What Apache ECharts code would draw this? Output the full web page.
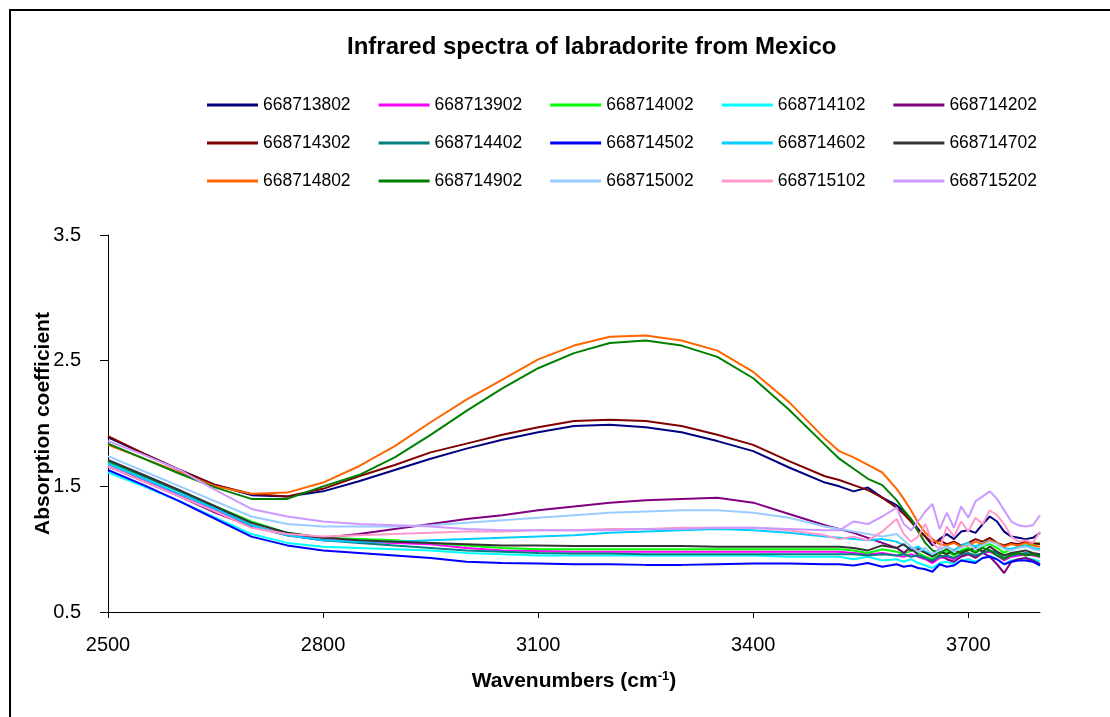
<!DOCTYPE html>
<html>
<head>
<meta charset="utf-8">
<script src="https://cdn.jsdelivr.net/npm/echarts@6/dist/echarts.min.js"></script>
<style>
html,body{margin:0;padding:0;background:#fff;}
#chart{width:1110px;height:717px;}
</style>
</head>
<body>
<div id="chart"></div>
<script>
const chartTitle = 'Infrared spectra of labradorite from Mexico';
const xAxisTitle = 'Wavenumbers (cm';
const yAxisTitle = 'Absorption coefficient';
const xTickLabels = [2500, 2800, 3100, 3400, 3700];
const yTickLabels = [0.5, 1.5, 2.5, 3.5];

const wavenumbers = [2500,2550,2600,2650,2700,2750,2800,2850,2900,2950,3000,3050,3100,3150,3200,3250,3300,3350,3400,3450,3500,
  3520,3540,3560,3580,3600,3610,3620,3630,3640,3650,3660,3670,3680,3690,3700,3710,3720,3730,3740,3750,3760,3770,3780,3790,3800];

const seriesNames = ['668713802','668713902','668714002','668714102','668714202',
  '668714302','668714402','668714502','668714602','668714702',
  '668714802','668714902','668715002','668715102','668715202'];

const seriesColors = ['#000080','#FF00FF','#00FF00','#00FFFF','#800080',
  '#800000','#008080','#0000FF','#00CCFF','#333333',
  '#FF6600','#008000','#99CCFF','#FF99CC','#CC99FF'];

const s668713802 = [1.89,1.76,1.63,1.51,1.43,1.42,1.46,1.54,1.63,1.72,1.80,1.87,1.93,1.98,1.99,1.97,1.93,1.86,1.78,1.65,1.53,
  1.50,1.46,1.49,1.41,1.35,1.30,1.24,1.16,1.10,1.03,1.08,1.12,1.08,1.14,1.15,1.13,1.20,1.26,1.22,1.14,1.10,1.09,1.08,1.09,1.13];
const s668713902 = [1.66,1.55,1.43,1.31,1.18,1.11,1.07,1.06,1.05,1.04,1.01,0.99,0.985,0.98,0.98,0.98,0.98,0.98,0.98,0.98,0.98,
  0.98,0.97,0.96,0.97,0.95,0.94,0.96,0.94,0.92,0.89,0.93,0.94,0.92,0.95,0.96,0.94,0.97,0.98,0.95,0.91,0.94,0.95,0.96,0.95,0.94];
const s668714002 = [1.69,1.58,1.46,1.34,1.22,1.13,1.09,1.08,1.07,1.05,1.03,1.01,1.00,1.00,1.00,1.00,1.00,1.00,1.00,1.00,1.00,
  1.00,0.99,0.97,1.00,0.98,0.96,0.99,0.97,0.94,0.92,0.96,0.98,0.95,0.99,1.01,0.98,1.02,1.04,1.01,0.97,1.00,1.02,1.03,1.04,1.05];
const s668714102 = [1.61,1.50,1.38,1.25,1.12,1.05,1.02,1.01,1.00,0.99,0.97,0.96,0.95,0.95,0.95,0.95,0.95,0.95,0.95,0.94,0.94,
  0.94,0.92,0.94,0.91,0.92,0.90,0.92,0.89,0.87,0.85,0.89,0.90,0.88,0.91,0.92,0.90,0.93,0.95,0.92,0.88,0.91,0.92,0.93,0.92,0.90];
const s668714202 = [1.66,1.54,1.42,1.29,1.18,1.12,1.09,1.12,1.16,1.20,1.24,1.27,1.31,1.34,1.37,1.39,1.40,1.41,1.37,1.28,1.19,
  1.16,1.13,1.09,1.05,1.01,0.97,1.02,0.95,0.93,0.90,0.95,0.92,0.90,0.94,0.96,0.93,0.97,0.94,0.88,0.81,0.90,0.92,0.93,0.91,0.88];
const s668714302 = [1.90,1.76,1.63,1.51,1.44,1.42,1.48,1.58,1.67,1.77,1.84,1.91,1.97,2.02,2.03,2.02,1.98,1.91,1.83,1.70,1.58,
  1.55,1.51,1.47,1.41,1.33,1.28,1.22,1.15,1.10,1.05,1.07,1.04,1.06,1.03,1.05,1.08,1.06,1.09,1.05,1.03,1.05,1.04,1.06,1.05,1.04];
const s668714402 = [1.70,1.58,1.46,1.33,1.19,1.11,1.07,1.05,1.03,1.01,0.99,0.98,0.97,0.965,0.965,0.96,0.96,0.96,0.96,0.96,0.96,
  0.96,0.96,0.95,0.96,0.95,0.96,0.94,0.95,0.93,0.91,0.94,0.95,0.93,0.96,0.97,0.95,0.97,0.99,0.97,0.93,0.95,0.96,0.97,0.96,0.95];
const s668714502 = [1.63,1.51,1.38,1.24,1.10,1.03,0.99,0.97,0.95,0.93,0.90,0.89,0.885,0.88,0.88,0.875,0.875,0.88,0.885,0.885,0.88,
  0.88,0.87,0.89,0.86,0.88,0.86,0.87,0.85,0.84,0.82,0.88,0.86,0.87,0.91,0.90,0.89,0.93,0.94,0.92,0.88,0.90,0.91,0.91,0.90,0.87];
const s668714602 = [1.68,1.56,1.44,1.32,1.19,1.11,1.07,1.06,1.06,1.07,1.08,1.09,1.10,1.11,1.13,1.14,1.15,1.16,1.15,1.13,1.10,
  1.09,1.08,1.07,1.08,1.06,1.03,1.00,1.02,0.98,0.96,1.00,1.02,0.99,1.03,1.05,1.02,1.05,1.07,1.05,1.01,1.00,1.02,1.03,1.01,1.00];
const s668714702 = [1.71,1.59,1.47,1.34,1.21,1.13,1.09,1.07,1.06,1.05,1.04,1.03,1.03,1.025,1.025,1.025,1.025,1.02,1.02,1.02,1.02,
  1.02,1.01,0.99,1.03,1.01,1.04,0.99,1.00,0.97,0.94,0.98,0.96,0.99,0.97,0.99,1.01,0.98,1.02,0.98,0.95,0.97,0.98,0.99,0.97,0.96];
const s668714802 = [1.83,1.72,1.61,1.50,1.44,1.45,1.53,1.66,1.82,2.01,2.19,2.35,2.51,2.62,2.69,2.70,2.66,2.58,2.41,2.17,1.88,
  1.78,1.73,1.67,1.61,1.48,1.40,1.31,1.21,1.13,1.08,1.04,1.03,1.05,1.02,1.03,1.06,1.04,1.07,1.05,1.02,1.04,1.03,1.05,1.03,1.02];
const s668714902 = [1.84,1.72,1.60,1.49,1.40,1.40,1.50,1.59,1.73,1.91,2.10,2.28,2.44,2.56,2.64,2.66,2.62,2.53,2.36,2.11,1.83,
  1.72,1.64,1.56,1.51,1.39,1.31,1.24,1.14,1.05,0.99,0.97,1.00,0.96,0.98,1.00,0.97,1.01,0.99,0.95,0.92,0.96,0.97,0.95,0.96,0.94];
const s668715002 = [1.74,1.62,1.50,1.38,1.26,1.20,1.18,1.18,1.18,1.19,1.21,1.23,1.25,1.27,1.29,1.30,1.31,1.31,1.29,1.25,1.18,
  1.16,1.14,1.12,1.10,1.12,1.07,1.02,0.98,1.01,0.96,0.99,1.02,0.98,1.01,1.04,1.00,1.03,1.06,1.04,1.00,0.99,1.01,1.02,1.00,0.99];
const s668715102 = [1.66,1.54,1.42,1.30,1.17,1.12,1.10,1.11,1.12,1.13,1.14,1.14,1.15,1.15,1.16,1.16,1.17,1.17,1.17,1.15,1.11,
  1.08,1.10,1.07,1.14,1.24,1.12,1.06,1.10,1.20,1.05,1.00,1.18,1.10,1.22,1.14,1.25,1.20,1.31,1.27,1.20,1.10,1.06,1.07,1.05,1.14];
const s668715202 = [1.86,1.75,1.63,1.47,1.32,1.26,1.22,1.20,1.19,1.18,1.16,1.15,1.15,1.15,1.15,1.16,1.16,1.17,1.17,1.16,1.15,
  1.15,1.22,1.20,1.26,1.33,1.20,1.15,1.22,1.30,1.36,1.16,1.29,1.17,1.34,1.25,1.38,1.42,1.46,1.40,1.31,1.22,1.19,1.18,1.19,1.27];

const seriesValues = [s668713802,s668713902,s668714002,s668714102,s668714202,
  s668714302,s668714402,s668714502,s668714602,s668714702,
  s668714802,s668714902,s668715002,s668715102,s668715202];

const FONT = '"Liberation Sans", Arial, Helvetica, sans-serif';
const chart = echarts.init(document.getElementById('chart'), null, {renderer: 'canvas'});

const legendRows = [seriesNames.slice(0,5), seriesNames.slice(5,10), seriesNames.slice(10,15)];
const legendTops = [96, 134, 172];

const option = {
  animation: false,
  backgroundColor: '#ffffff',
  color: seriesColors,
  title: {
    text: chartTitle, left: 347, top: 35, padding: 0,
    textStyle: {fontFamily: FONT, fontSize: 24, fontWeight: 'bold', color: '#000'}
  },
  legend: legendRows.map((row, r) => ({
    data: row, left: 207, top: legendTops[r], padding: 0,
    orient: 'horizontal', itemGap: 28, itemWidth: 51, itemHeight: 3, icon: 'rect',
    selectedMode: false,
    textStyle: {fontFamily: FONT, fontSize: 17.5, color: '#000', padding: [0,0,0,0]}
  })),
  grid: {left: 108, right: 70, top: 235, bottom: 105, containLabel: false},
  xAxis: {
    type: 'value', min: 2500, max: 3800,
    name: '{a|' + xAxisTitle + '}{s|-1}{a|)}', nameLocation: 'middle', nameGap: 58,
    nameMoveOverlap: false,
    nameTextStyle: {
      rich: {
        a: {fontFamily: FONT, fontSize: 21, fontWeight: 'bold', color: '#000', lineHeight: 22},
        s: {fontFamily: FONT, fontSize: 13, fontWeight: 'bold', color: '#000', lineHeight: 22, verticalAlign: 'top', padding: [0,0,6,0]}
      }
    },
    axisLine: {show: true, lineStyle: {color: '#000', width: 1}},
    axisTick: {show: true, length: 6, customValues: xTickLabels, lineStyle: {color: '#000'}},
    axisLabel: {customValues: xTickLabels, margin: 23, fontFamily: FONT, fontSize: 20, color: '#000',
      formatter: v => String(v)},
    splitLine: {show: false}
  },
  yAxis: {
    type: 'value', min: 0.5, max: 3.5,
    name: yAxisTitle, nameLocation: 'middle', nameGap: 54, nameRotate: 90,
    nameMoveOverlap: false,
    nameTextStyle: {fontFamily: FONT, fontSize: 21, fontWeight: 'bold', color: '#000'},
    axisLine: {show: true, lineStyle: {color: '#000', width: 1}},
    axisTick: {show: true, length: 8, customValues: yTickLabels, lineStyle: {color: '#000'}},
    axisLabel: {customValues: yTickLabels, margin: 27, fontFamily: FONT, fontSize: 20, color: '#000',
      formatter: v => v.toFixed(1)},
    splitLine: {show: false}
  },
  graphic: [{
    type: 'rect', z: -10, silent: true,
    shape: {x: 10, y: 10, width: 1200, height: 800},
    style: {fill: 'none', stroke: '#000', lineWidth: 2}
  }],
  series: seriesNames.map((name, i) => ({
    name: name, type: 'line', symbol: 'none', showSymbol: false,
    data: wavenumbers.map((w, j) => [w, seriesValues[i][j]]),
    lineStyle: {width: 2, color: seriesColors[i]},
    itemStyle: {color: seriesColors[i]},
    emphasis: {disabled: true},
    clip: true
  }))
};
chart.setOption(option);
</script>
</body>
</html>
